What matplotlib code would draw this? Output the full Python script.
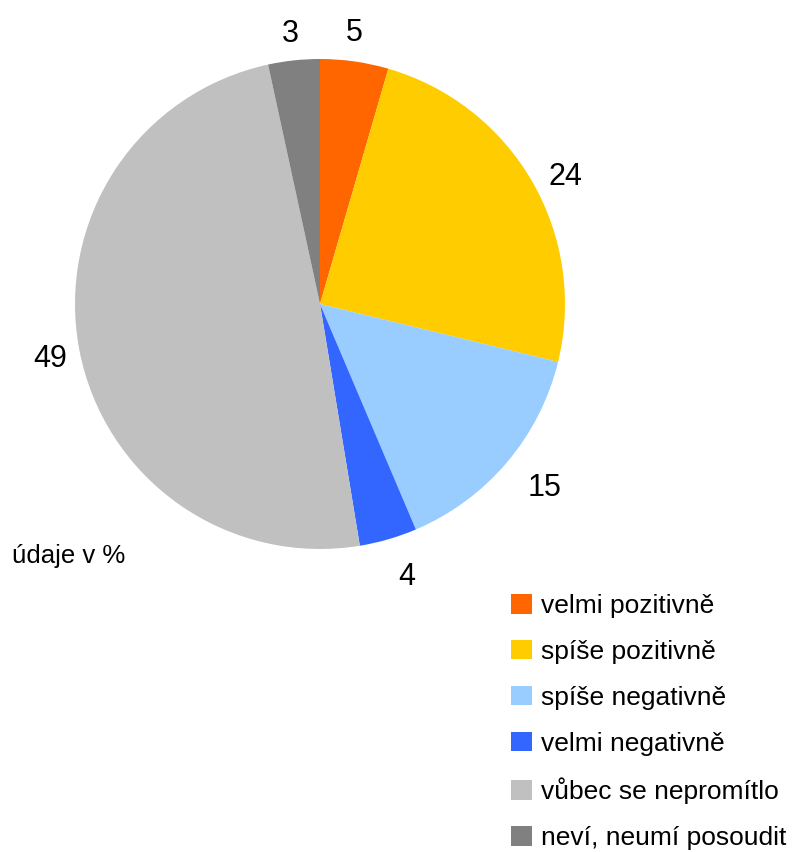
import matplotlib
matplotlib.use("Agg")
import matplotlib.pyplot as plt

categories = ["velmi pozitivně", "spíše pozitivně", "spíše negativně",
              "velmi negativně", "vůbec se nepromítlo", "neví, neumí posoudit"]
# slice shares; labels are the rounded figures
values = [4.5, 24.3, 14.8, 3.8, 49.2, 3.4]
labels = ["5", "24", "15", "4", "49", "3"]
colors = ["#FF6600", "#FFCC00", "#99CCFF", "#3366FF", "#C0C0C0", "#808080"]
note = "údaje v %"
# small nudges of the value labels (pixels, x right / y down)
label_nudge = [(-5, 2), (4, 9), (12, 0), (9, 1), (5, -1), (0, 4)]

plt.rcParams['font.family'] = ['Liberation Sans', 'DejaVu Sans']

W, H = 796, 852
R_PX = 245.0
fig = plt.figure(figsize=(W / 100, H / 100), dpi=100)
ax = fig.add_axes([75 / W, (H - 549) / H, 490 / W, 490 / H])

wedges, texts = ax.pie(values, colors=colors, startangle=90, counterclock=False,
                       labels=labels, labeldistance=1.14, normalize=True,
                       wedgeprops=dict(linewidth=0),
                       textprops=dict(fontsize=22, color="black"))
for t, (dx, dy) in zip(texts, label_nudge):
    t.set_ha("center")
    t.set_va("center_baseline")
    x, y = t.get_position()
    t.set_position((x + dx / R_PX, y - dy / R_PX))
ax.set_xlim(-1, 1)
ax.set_ylim(-1, 1)
ax.set_aspect("equal")

fig.text(12 / W, 1 - 556 / H, note, fontsize=18.5, ha="left", va="center")

fig.legend(wedges, categories, loc="upper left",
           bbox_to_anchor=(511 / W, 1 - 594 / H), frameon=False,
           fontsize=19, handlelength=0.8, handleheight=0.76,
           handletextpad=0.35, labelspacing=0.83, borderaxespad=0,
           borderpad=0)

fig.savefig("out.png", dpi=100)
